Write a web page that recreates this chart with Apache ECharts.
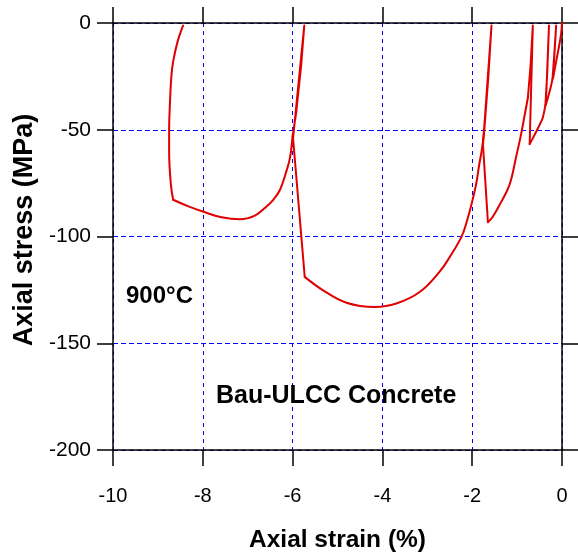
<!DOCTYPE html>
<html>
<head>
<meta charset="utf-8">
<script src="https://cdn.jsdelivr.net/npm/echarts@6/dist/echarts.min.js"></script>
<style>
  html, body { margin: 0; padding: 0; background: #fff; }
  #chart { width: 578px; height: 558px; }
</style>
</head>
<body>
<div id="chart"></div>
<script>
// Cyclic compression test of Bau-ULCC concrete at 900°C.
// Every piece is a run of [axial strain (%), axial stress (MPa)] points, in test order;
// consecutive pieces share their end points. Curved pieces are drawn smoothed,
// straight unload/reload legs are drawn as plain polylines.

const loadingStart = [[0, 0], [-0.02, -5], [-0.06, -10.2], [-0.13, -18], [-0.20, -25.8]];
const loop1 = [[-0.20, -25.8], [-0.13, -1.2], [-0.17, -14], [-0.21, -26]];
const loading2 = [[-0.21, -26], [-0.24, -29], [-0.30, -34], [-0.36, -38.3]];
const loop2 = [[-0.36, -38.3], [-0.29, -1.2], [-0.33, -24], [-0.37, -38.5]];
const loading3 = [[-0.37, -38.5], [-0.43, -44.5], [-0.50, -47.7], [-0.61, -52.4], [-0.72, -56.7]];
const loop3 = [[-0.72, -56.7], [-0.65, -1.2], [-0.70, -20], [-0.76, -35]];
const loading4 = [
  [-0.76, -35], [-0.83, -43], [-0.92, -53], [-1.02, -62.5], [-1.17, -75.8],
  [-1.39, -85.2], [-1.55, -91], [-1.65, -93.3]
];
const loop4 = [[-1.65, -93.3], [-1.76, -57], [-1.57, -1.2], [-1.64, -25], [-1.73, -50]];
const loading5 = [
  [-1.73, -50], [-1.79, -60], [-1.84, -65.8], [-1.91, -75.2], [-2.02, -85.3],
  [-2.12, -93], [-2.24, -100.2], [-2.50, -109.6], [-2.73, -116.6], [-3.17, -126.0],
  [-3.69, -131.4], [-4.17, -133.0], [-4.80, -131.0], [-5.32, -125.2], [-5.73, -118.9]
];
const loop5 = [[-5.73, -118.9], [-5.99, -54], [-5.74, -1.2], [-5.81, -20], [-5.92, -42], [-6.00, -53]];
const loading6 = [
  [-6.00, -53], [-6.06, -63.3], [-6.14, -69.5], [-6.28, -78.1], [-6.43, -82.8],
  [-6.62, -86.7], [-6.84, -90.2], [-7.17, -91.9], [-7.58, -91], [-8.0, -88.3],
  [-8.32, -85.9], [-8.66, -82.8]
];
const finalUnload = [
  [-8.66, -82.8], [-8.71, -75.8], [-8.75, -60.2], [-8.75, -50.8], [-8.73, -36.7],
  [-8.70, -25], [-8.66, -18], [-8.56, -8.6], [-8.44, -1.2]
];

const strainTicks = [-10, -8, -6, -4, -2, 0];
const stressTicks = [-200, -150, -100, -50, 0];

const pieces = [
  { data: loadingStart, smooth: true }, { data: loop1, smooth: false },
  { data: loading2, smooth: true }, { data: loop2, smooth: false },
  { data: loading3, smooth: true }, { data: loop3, smooth: false },
  { data: loading4, smooth: true }, { data: loop4, smooth: false },
  { data: loading5, smooth: true }, { data: loop5, smooth: false },
  { data: loading6, smooth: true }, { data: finalUnload, smooth: true }
];

const FONT = 'Liberation Sans, Arial, Helvetica, sans-serif';
const RED = '#e00000';

const chart = echarts.init(document.getElementById('chart'), null, { renderer: 'canvas' });

const blueGrid = (dash) => ({ show: true, lineStyle: { color: '#0000ff', width: 1, type: dash } });
const blackLine = { show: true, onZero: false, lineStyle: { color: '#000', width: 1.5 } };
const outTicks = { show: true, inside: false, length: 16, lineStyle: { color: '#000', width: 1.5 } };

chart.setOption({
  animation: false,
  backgroundColor: '#fff',
  grid: { left: 113, top: 23, right: 16, bottom: 108, containLabel: false },
  xAxis: [
    {
      type: 'value', position: 'bottom',
      min: strainTicks[0], max: strainTicks[strainTicks.length - 1], interval: 2,
      axisLine: blackLine, axisTick: outTicks,
      splitLine: blueGrid([4, 4]),
      axisLabel: { color: '#000', fontSize: 20, fontFamily: FONT, margin: 36 },
      name: 'Axial strain (%)', nameLocation: 'middle', nameGap: 78,
      nameTextStyle: { color: '#000', fontSize: 24.5, fontWeight: 'bold', fontFamily: FONT }
    },
    {
      type: 'value', position: 'top',
      min: strainTicks[0], max: strainTicks[strainTicks.length - 1], interval: 2,
      axisLine: blackLine, axisTick: outTicks,
      splitLine: { show: false }, axisLabel: { show: false }
    }
  ],
  yAxis: [
    {
      type: 'value', position: 'left',
      min: stressTicks[0], max: stressTicks[stressTicks.length - 1], interval: 50,
      axisLine: blackLine, axisTick: outTicks,
      splitLine: blueGrid([5, 3]),
      axisLabel: { color: '#000', fontSize: 21, fontFamily: FONT, margin: 22 },
      name: 'Axial stress (MPa)', nameLocation: 'middle', nameGap: 72, nameRotate: 90,
      nameTextStyle: {
        color: '#000', fontSize: 27, fontWeight: 'bold', fontFamily: FONT,
        padding: [0, 0, 0, 13]
      }
    },
    {
      type: 'value', position: 'right',
      min: stressTicks[0], max: stressTicks[stressTicks.length - 1], interval: 50,
      axisLine: blackLine, axisTick: outTicks,
      splitLine: { show: false }, axisLabel: { show: false }
    }
  ],
  graphic: [
    {
      type: 'text', left: 126, top: 284, z: 10,
      style: { text: '900°C', fill: '#000', font: 'bold 24px ' + FONT }
    },
    {
      type: 'text', left: 216, top: 384, z: 10,
      style: { text: 'Bau-ULCC Concrete', fill: '#000', font: 'bold 25px ' + FONT }
    }
  ],
  series: pieces.map((p) => ({
    type: 'line', xAxisIndex: 0, yAxisIndex: 0,
    data: p.data, showSymbol: false,
    smooth: p.smooth ? 0.4 : false,
    clip: false, z: 5,
    lineStyle: { color: RED, width: 2, cap: 'round', join: 'round' }
  }))
});
</script>
</body>
</html>
